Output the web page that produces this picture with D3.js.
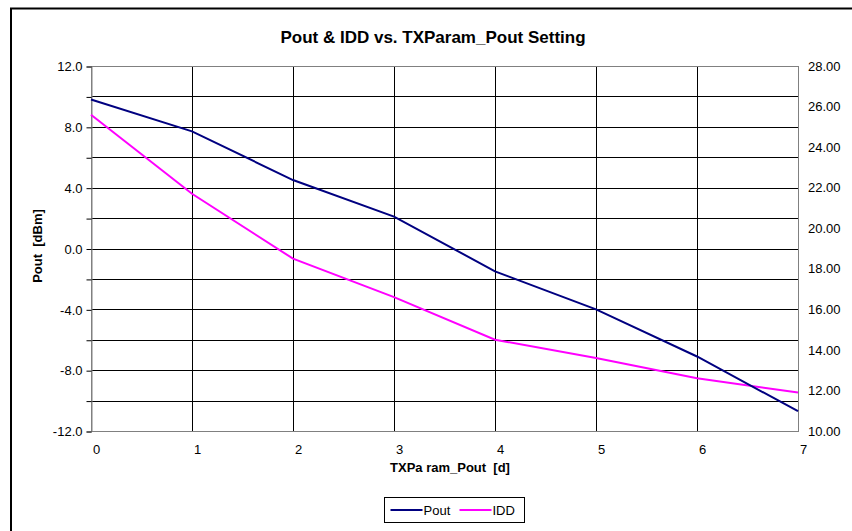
<!DOCTYPE html>
<html>
<head>
<meta charset="utf-8">
<script src="https://cdn.jsdelivr.net/npm/d3@7"></script>
<style>
  body { margin: 0; background: #fff; }
  svg { display: block; font-family: "Liberation Sans", Arial, sans-serif; }
</style>
</head>
<body>
<svg id="chart"></svg>
<script>
  // Data
  var settings = [0, 1, 2, 3, 4, 5, 6, 7]
  var pout = [9.8, 7.7, 4.5, 2.1, -1.5, -4.0, -7.1, -10.7]
  var idd = [25.6, 21.7, 18.5, 16.6, 14.5, 13.6, 12.6, 11.9]
  var poutTicks = [-12, -8, -4, 0, 4, 8, 12]
  var iddTicks = [10, 12, 14, 16, 18, 20, 22, 24, 26, 28]

  var WIDTH = 852
  var HEIGHT = 531
  var plot = { left: 91, right: 798, top: 66, bottom: 431 }

  // Excel style numbers use a plain hyphen for negatives
  function fmt (spec) {
    var f = d3.format(spec)
    return function (d) { return f(d).replace('\u2212', '-') }
  }

  var svg = d3.select('#chart')
    .attr('width', WIDTH)
    .attr('height', HEIGHT)

  // Chart frame (cut off at right and bottom like the original)
  svg.append('path')
    .attr('d', 'M11,' + (HEIGHT + 5) + 'V8.5H' + (WIDTH + 5))
    .attr('fill', 'none')
    .attr('stroke', '#000')
    .attr('stroke-width', 2)

  var x = d3.scaleLinear().domain([0, 7]).range([plot.left, plot.right])
  var yL = d3.scaleLinear().domain([-12, 12]).range([plot.bottom, plot.top])
  var yR = d3.scaleLinear().domain([10, 28]).range([plot.bottom, plot.top])

  // Grid
  var grid = svg.append('g')
  grid.selectAll('line.h')
    .data(d3.range(-10, 12, 2))
    .enter().append('line')
    .attr('x1', plot.left).attr('x2', plot.right)
    .attr('y1', function (d) { return Math.round(yL(d)) + 0.5 })
    .attr('y2', function (d) { return Math.round(yL(d)) + 0.5 })
    .attr('stroke', '#000')
  grid.selectAll('line.v')
    .data(d3.range(1, 7))
    .enter().append('line')
    .attr('y1', plot.top).attr('y2', plot.bottom)
    .attr('x1', function (d) { return Math.round(x(d)) + 0.5 })
    .attr('x2', function (d) { return Math.round(x(d)) + 0.5 })
    .attr('stroke', '#000')

  // Plot border
  svg.append('rect')
    .attr('x', plot.left + 0.5).attr('y', plot.top + 0.5)
    .attr('width', plot.right - plot.left).attr('height', plot.bottom - plot.top)
    .attr('fill', 'none')
    .attr('stroke', '#808080')

  // Left axis
  var leftAxis = d3.axisLeft(yL)
    .tickValues(d3.range(-12, 13, 2))
    .tickSize(5)
    .tickPadding(4)
    .tickFormat(function (d) { return poutTicks.indexOf(d) >= 0 ? fmt('.1f')(d) : '' })
  var gl = svg.append('g')
    .attr('transform', 'translate(' + (plot.left + 0.5) + ',0.5)')
    .call(leftAxis)
  gl.select('.domain').attr('stroke', '#808080')
  gl.selectAll('.tick line').attr('stroke', '#000')
  gl.selectAll('text').attr('font-size', 13).attr('font-family', 'Liberation Sans, Arial').attr('fill', '#000')

  // Right axis
  var rightAxis = d3.axisRight(yR)
    .tickValues(iddTicks)
    .tickSize(0)
    .tickPadding(10)
    .tickFormat(fmt('.2f'))
  var gr = svg.append('g')
    .attr('transform', 'translate(' + plot.right + ',0)')
    .call(rightAxis)
  gr.select('.domain').remove()
  gr.selectAll('text').attr('font-size', 13).attr('font-family', 'Liberation Sans, Arial').attr('fill', '#000')

  // Bottom axis
  var bottomAxis = d3.axisBottom(x)
    .tickValues(settings)
    .tickSize(0)
    .tickPadding(14)
    .tickFormat(d3.format('d'))
  var gb = svg.append('g')
    .attr('transform', 'translate(5,' + plot.bottom + ')')
    .call(bottomAxis)
  gb.select('.domain').remove()
  gb.selectAll('text').attr('font-size', 13).attr('font-family', 'Liberation Sans, Arial').attr('fill', '#000')

  // Lines
  var linePout = d3.line()
    .x(function (d, i) { return x(settings[i]) })
    .y(function (d) { return yL(d) })
  var lineIdd = d3.line()
    .x(function (d, i) { return x(settings[i]) })
    .y(function (d) { return yR(d) })

  svg.append('path')
    .datum(idd)
    .attr('d', lineIdd)
    .attr('fill', 'none')
    .attr('stroke', '#ff00ff')
    .attr('stroke-width', 2)
  svg.append('path')
    .datum(pout)
    .attr('d', linePout)
    .attr('fill', 'none')
    .attr('stroke', '#000080')
    .attr('stroke-width', 2)

  // Titles
  svg.append('text')
    .attr('x', 433).attr('y', 43)
    .attr('text-anchor', 'middle')
    .attr('font-size', 17).attr('font-weight', 'bold')
    .text('Pout & IDD vs. TXParam_Pout Setting')
  svg.append('text')
    .attr('x', 450).attr('y', 472)
    .attr('text-anchor', 'middle')
    .attr('font-size', 13).attr('font-weight', 'bold')
    .attr('xml:space', 'preserve')
    .text('TXPa ram_Pout  [d]')
  svg.append('text')
    .attr('transform', 'translate(42,246) rotate(-90)')
    .attr('text-anchor', 'middle')
    .attr('font-size', 13).attr('font-weight', 'bold')
    .attr('xml:space', 'preserve')
    .text('Pout  [dBm]')

  // Legend
  var legend = svg.append('g').attr('transform', 'translate(384.5,497.5)')
  legend.append('rect')
    .attr('width', 140).attr('height', 25)
    .attr('fill', '#fff').attr('stroke', '#000')
  var items = [{ name: 'Pout', color: '#000080' }, { name: 'IDD', color: '#ff00ff' }]
  var li = legend.selectAll('g.item')
    .data(items)
    .enter().append('g')
    .attr('transform', function (d, i) { return 'translate(' + (6 + i * 69) + ',12.5)' })
  li.append('line')
    .attr('x1', 0).attr('x2', 32)
    .attr('stroke', function (d) { return d.color })
    .attr('stroke-width', 2)
  li.append('text')
    .attr('x', 33).attr('y', 5)
    .attr('font-size', 13)
    .text(function (d) { return d.name })
</script>
</body>
</html>
